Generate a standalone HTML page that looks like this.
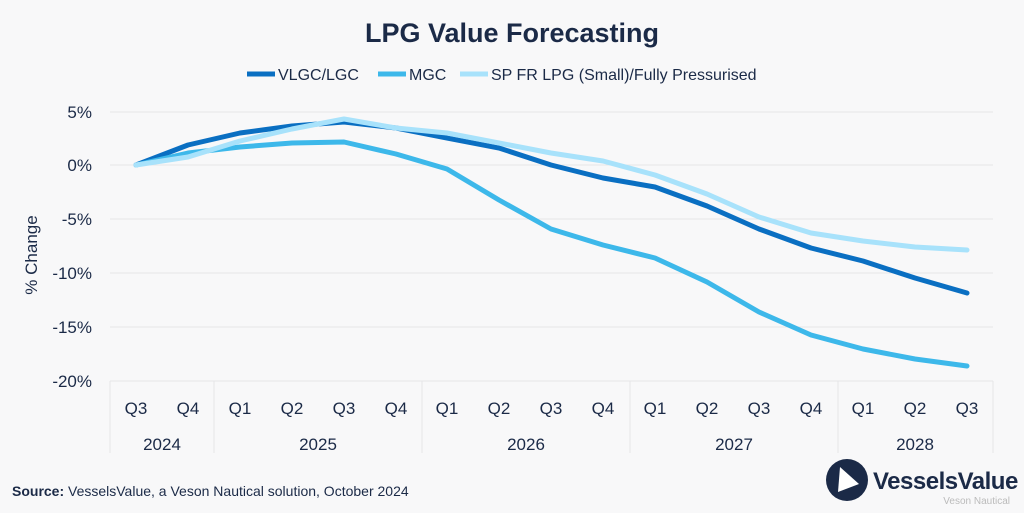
<!DOCTYPE html><html><head><style>body{margin:0;background:#f8f8f9;}svg{display:block;font-family:"Liberation Sans",sans-serif}</style></head><body>
<svg width="1024" height="513" viewBox="0 0 1024 513">
<rect width="1024" height="513" fill="#f8f8f9"/>
<text x="512" y="42" text-anchor="middle" font-size="27" font-weight="bold" fill="#1b2a47">LPG Value Forecasting</text>
<g font-size="16" fill="#1b2a47">
<line x1="247" y1="74" x2="275" y2="74" stroke="#0a6fc2" stroke-width="5"/><text x="278" y="80">VLGC/LGC</text>
<line x1="378" y1="74" x2="406" y2="74" stroke="#3db8ea" stroke-width="5"/><text x="409" y="80">MGC</text>
<line x1="460" y1="74" x2="488" y2="74" stroke="#a8e2fb" stroke-width="5"/><text x="491" y="80">SP FR LPG (Small)/Fully Pressurised</text>
</g>
<g stroke="#e6e6e8" stroke-width="1">
<line x1="110" y1="112" x2="993" y2="112"/><line x1="110" y1="165" x2="993" y2="165"/><line x1="110" y1="219" x2="993" y2="219"/><line x1="110" y1="273" x2="993" y2="273"/><line x1="110" y1="327" x2="993" y2="327"/><line x1="110" y1="381" x2="993" y2="381"/>
<line x1="110" y1="381" x2="110" y2="453"/><line x1="214" y1="381" x2="214" y2="453"/><line x1="422" y1="381" x2="422" y2="453"/><line x1="630" y1="381" x2="630" y2="453"/><line x1="838" y1="381" x2="838" y2="453"/><line x1="993" y1="381" x2="993" y2="453"/>
</g>
<g font-size="17" fill="#1b2a47" text-anchor="end">
<text x="92" y="118">5%</text><text x="92" y="171">0%</text><text x="92" y="225">-5%</text><text x="92" y="279">-10%</text><text x="92" y="333">-15%</text><text x="92" y="387">-20%</text>
</g>
<text transform="translate(37,255) rotate(-90)" text-anchor="middle" font-size="17" fill="#1b2a47">% Change</text>
<g font-size="17" fill="#1b2a47" text-anchor="middle">
<text x="136" y="414">Q3</text><text x="188" y="414">Q4</text><text x="240" y="414">Q1</text><text x="292" y="414">Q2</text><text x="344" y="414">Q3</text><text x="396" y="414">Q4</text><text x="447" y="414">Q1</text><text x="499" y="414">Q2</text><text x="551" y="414">Q3</text><text x="603" y="414">Q4</text><text x="655" y="414">Q1</text><text x="707" y="414">Q2</text><text x="759" y="414">Q3</text><text x="811" y="414">Q4</text><text x="863" y="414">Q1</text><text x="915" y="414">Q2</text><text x="967" y="414">Q3</text>
<text x="162" y="450">2024</text><text x="318" y="450">2025</text><text x="526" y="450">2026</text><text x="734" y="450">2027</text><text x="915" y="450">2028</text>
</g>
<g fill="none" stroke-width="5" stroke-linejoin="round" stroke-linecap="round">
<polyline stroke="#0a6fc2" points="136,165 188,145 240,133 292,126 344,122 396,128 447,138 499,148 551,165 603,178 655,187 707,206 759,229 811,248 863,261 915,278 967,293"/>
<polyline stroke="#3db8ea" points="136,165 188,153 240,147 292,143 344,142 396,154 447,169 499,200 551,229 603,245 655,258 707,282 759,312 811,335 863,349 915,359 967,366"/>
<polyline stroke="#a8e2fb" points="136,165 188,157 240,141 292,129 344,119 396,128 447,133 499,143 551,153 603,161 655,175 707,194 759,217 811,233 863,241 915,247 967,250"/>
</g>
<text x="12" y="496" font-size="14" fill="#1b2a47"><tspan font-weight="bold">Source:</tspan> VesselsValue, a Veson Nautical solution, October 2024</text>
<circle cx="847" cy="480" r="21" fill="#1b2a47"/>
<polygon points="840,467 859,484 838,492" fill="#fff"/>
<text x="873" y="489" font-size="24" font-weight="bold" fill="#1b2a47" letter-spacing="-0.5">VesselsValue</text>
<text x="1010" y="504" font-size="10" fill="#bbb" text-anchor="end">Veson Nautical</text>
</svg></body></html>
